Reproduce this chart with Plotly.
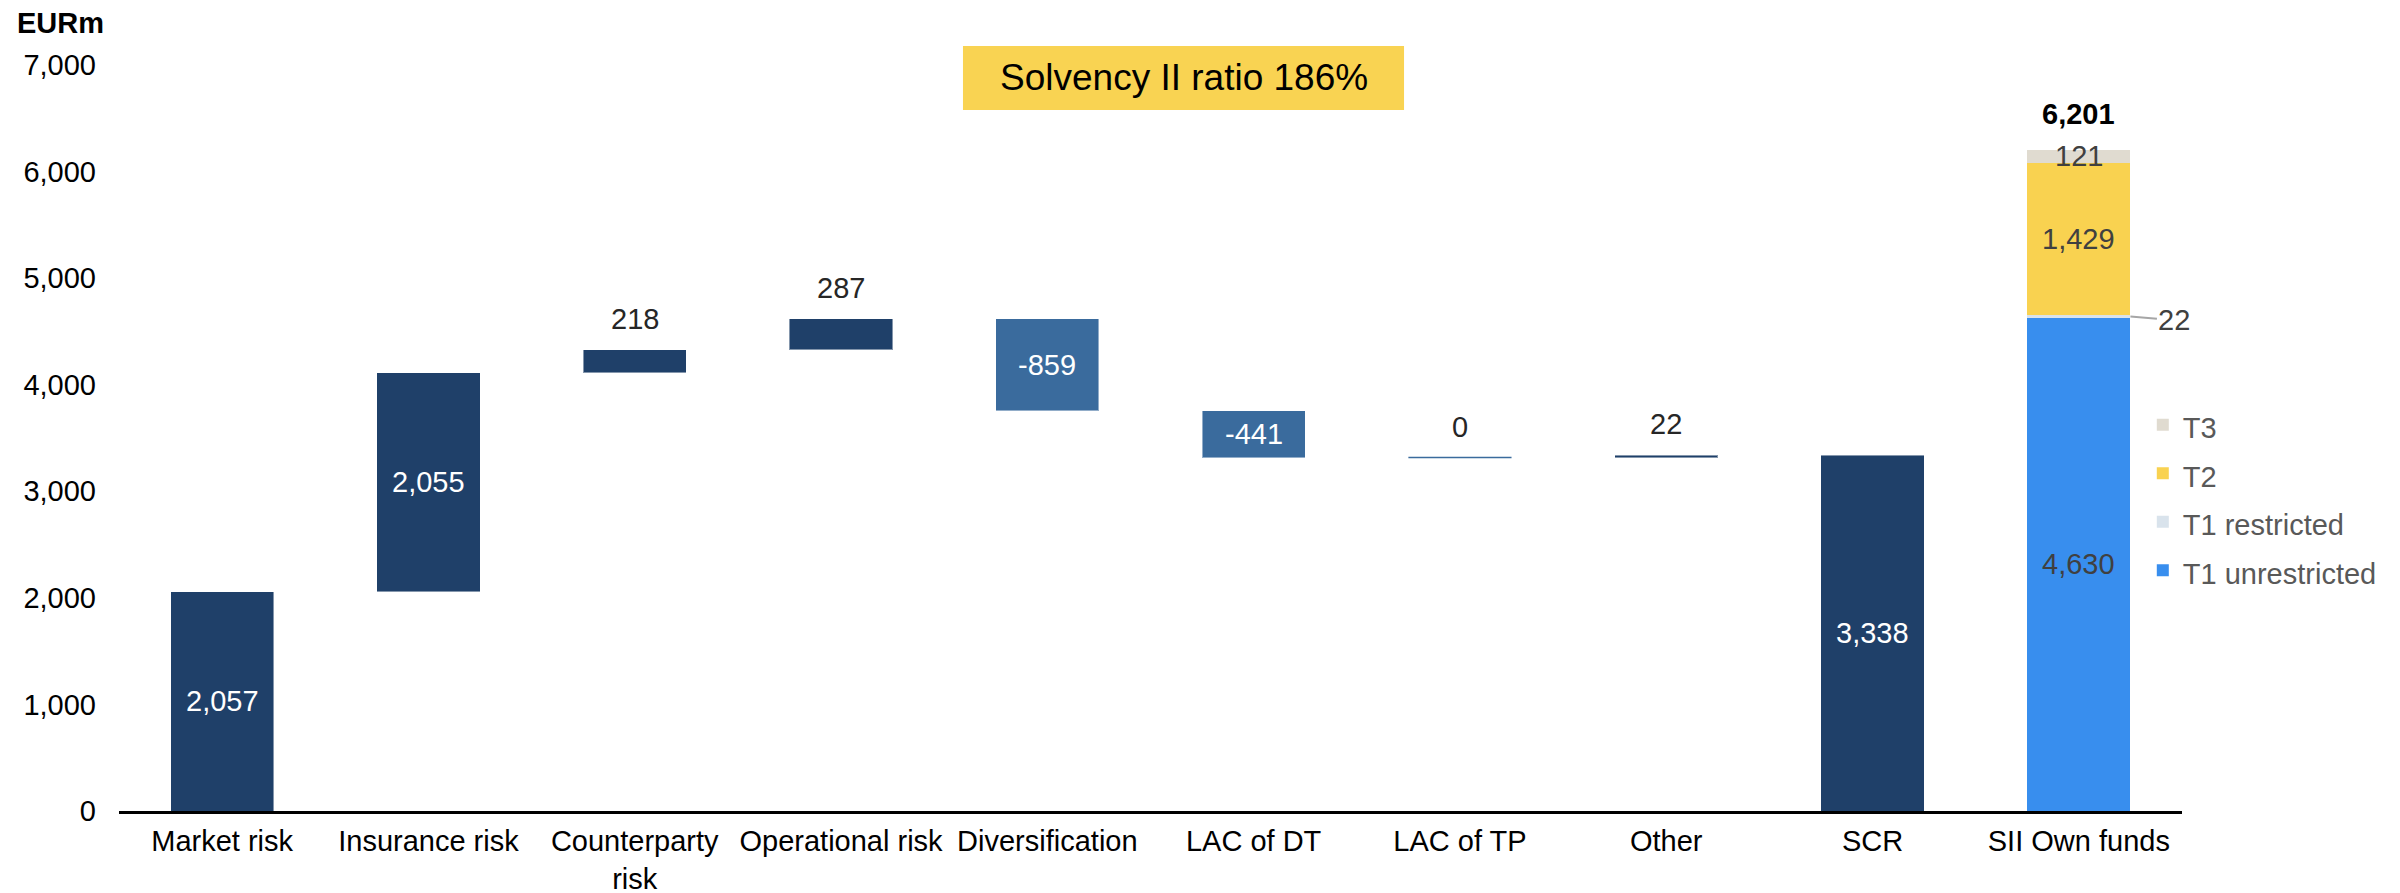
import plotly.graph_objects as go

# ---------------- data ----------------
categories = ["Market risk", "Insurance risk", "Counterparty<br>risk", "Operational risk",
              "Diversification", "LAC of DT", "LAC of TP", "Other", "SCR", "SII Own funds"]
risk_steps = [2057, 2055, 218, 287, -859, -441, 0, 22]
scr_total = 3338
own_funds_tiers = ["T1 unrestricted", "T1 restricted", "T2", "T3"]
own_funds_values = [4630, 22, 1429, 121]
own_funds_total = 6201
solvency_ratio_text = "Solvency II ratio 186%"
y_tick_values = [0, 1000, 2000, 3000, 4000, 5000, 6000, 7000]
y_tick_labels = ["0", "1,000", "2,000", "3,000", "4,000", "5,000", "6,000", "7,000"]

# ---------------- style ----------------
FONT = "Liberation Sans, Arial, sans-serif"
NAVY = "#1f4069"
LIGHT_BLUE = "#3a6b9d"
TIER_COLORS = ["#388eee", "#d9e3ec", "#f9d250", "#e0dbd0"]
LABEL_GREY = "#404040"
BAR_W = 0.5
FS = 29

# waterfall bases
bases = []
level = 0
for v in risk_steps:
    bases.append(level if v >= 0 else level + v)
    level += v

wf_x = categories[:len(risk_steps)] + [categories[len(risk_steps)]]
wf_y = [abs(v) for v in risk_steps] + [scr_total]
wf_base = bases + [0]
wf_colors = [NAVY if v > 0 else LIGHT_BLUE for v in risk_steps] + [NAVY]

fig = go.Figure()
fig.add_trace(go.Bar(
    x=wf_x, y=wf_y, base=wf_base, width=BAR_W,
    marker=dict(color=wf_colors, line=dict(color="rgba(255,255,255,0.45)", width=1)),
    showlegend=False, hoverinfo="skip",
))

of_cat = categories[-1]
for name, val, col in zip(own_funds_tiers, own_funds_values, TIER_COLORS):
    fig.add_trace(go.Bar(
        x=[of_cat], y=[val], width=BAR_W, name=f'<span style="font-size:{FS}px">{name}</span>',
        marker=dict(color=col, line=dict(width=0)), hoverinfo="skip",
    ))

annotations = []
shapes = []

# labels of the waterfall
for i, v in enumerate(risk_steps):
    cat = categories[i]
    if abs(v) >= 400:
        annotations.append(dict(x=cat, y=bases[i] + abs(v) / 2, text=f"{v:,}", showarrow=False,
                                font=dict(family=FONT, size=FS, color="white")))
    else:
        top = bases[i] + abs(v)
        annotations.append(dict(x=cat, y=top, text=f"{v:,}", showarrow=False, yshift=31,
                                font=dict(family=FONT, size=FS, color="#262626")))
    if v == 0:
        shapes.append(dict(type="line", xref="x", yref="y", x0=i - BAR_W / 2, x1=i + BAR_W / 2,
                           y0=bases[i], y1=bases[i], line=dict(color=LIGHT_BLUE, width=1.5)))

# SCR label
annotations.append(dict(x=categories[len(risk_steps)], y=scr_total / 2, text=f"{scr_total:,}",
                        showarrow=False, font=dict(family=FONT, size=FS, color="white")))

# own funds labels
of_idx = len(categories) - 1
cum = 0
for name, val in zip(own_funds_tiers, own_funds_values):
    mid = cum + val / 2
    if name == "T1 restricted":
        annotations.append(dict(x=of_idx + BAR_W / 2, y=mid, xref="x", yref="y", text=f"{val:,}",
                                showarrow=True, arrowhead=0, arrowwidth=2, arrowcolor="#a6a6a6",
                                ax=44, ay=4, font=dict(family=FONT, size=FS, color=LABEL_GREY)))
    else:
        annotations.append(dict(x=of_cat, y=mid, text=f"{val:,}", showarrow=False,
                                font=dict(family=FONT, size=FS, color=LABEL_GREY)))
    cum += val
annotations.append(dict(x=of_cat, y=cum, text=f"<b>{own_funds_total:,}</b>", showarrow=False, yshift=36,
                        font=dict(family=FONT, size=FS, color="black")))

# axis unit label
annotations.append(dict(xref="paper", yref="paper", x=-0.0505, y=1.056, xanchor="left", yanchor="middle",
                        text="<b>EURm</b>", showarrow=False, font=dict(family=FONT, size=FS, color="black")))

# solvency ratio box
shapes.append(dict(type="rect", xref="paper", yref="paper", x0=0.4091, x1=0.6229, y0=0.9397, y1=1.0255,
                   fillcolor="#f9d352", line=dict(width=0), layer="below"))
annotations.append(dict(xref="paper", yref="paper", x=0.5160, y=0.9826, xanchor="center", yanchor="middle",
                        text=solvency_ratio_text, showarrow=False,
                        font=dict(family=FONT, size=37, color="black")))

fig.update_layout(
    width=2400, height=893,
    margin=dict(l=119, r=218, t=65, b=82, autoexpand=False),
    paper_bgcolor="white", plot_bgcolor="white",
    barmode="stack",
    font=dict(family=FONT, size=FS, color="black"),
    xaxis=dict(type="category", categoryorder="array", categoryarray=categories,
               range=[-0.5, len(categories) - 0.5], autorange=False,
               showline=True, linecolor="black", linewidth=3, showgrid=False, ticks="",
               ticklabelstandoff=2,
               tickfont=dict(family=FONT, size=FS, color="black"), fixedrange=True),
    yaxis=dict(range=[0, 7000], autorange=False, tickvals=y_tick_values, ticktext=y_tick_labels,
               showgrid=False, zeroline=False, showline=False, ticks="", ticklabelstandoff=22,
               tickfont=dict(family=FONT, size=FS, color="black"), fixedrange=True),
    legend=dict(x=0.981, xanchor="left", y=0.557, yanchor="top", traceorder="reversed",
                font=dict(family=FONT, size=35, color="#595959"), bgcolor="rgba(0,0,0,0)"),
    annotations=annotations, shapes=shapes,
)

fig.write_html("out.html", config={"displayModeBar": False},
               post_script="document.body.style.margin='0';")
